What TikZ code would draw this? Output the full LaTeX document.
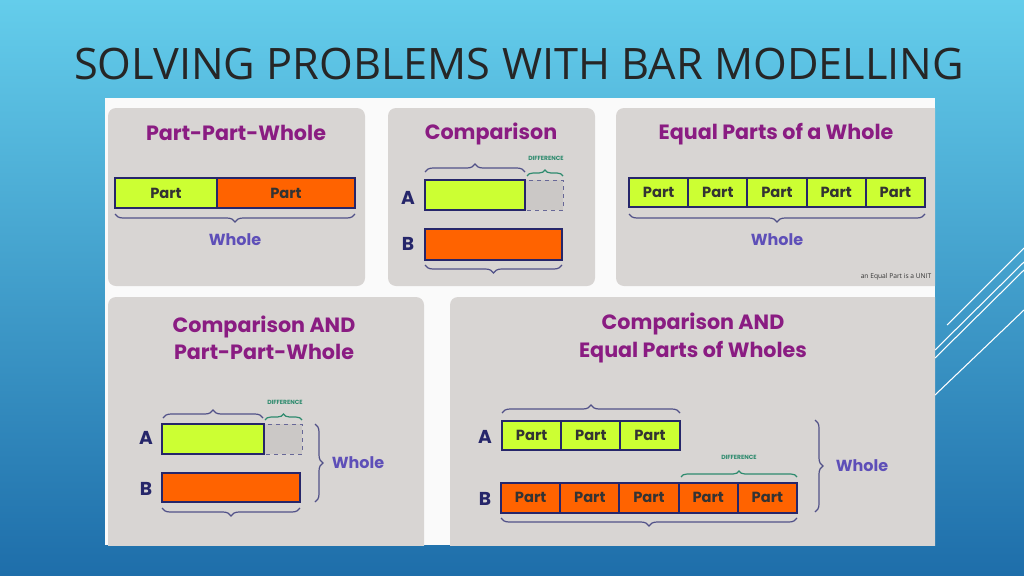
\documentclass[tikz,border=0pt]{standalone}
\usepackage{fontspec}
\setmainfont{Open Sans}
\newfontfamily\rnd{Poppins}
\usetikzlibrary{decorations.pathreplacing}
\definecolor{pnl}{HTML}{D8D5D3}
\definecolor{ttl}{HTML}{8A1C82}
\definecolor{nav}{HTML}{26266A}
\definecolor{grn}{HTML}{CCFF33}
\definecolor{org}{HTML}{FF6300}
\definecolor{wh}{HTML}{5E4FB8}
\definecolor{tea}{HTML}{2E8B6E}
\begin{document}
\begin{tikzpicture}[x=0.75pt,y=-0.75pt,
  panel/.style={fill=pnl,rounded corners=6pt,draw=none},
  ptitle/.style={text=ttl,font=\rnd\bfseries\fontsize{15.5}{20.5}\selectfont,align=center},
  bar/.style={draw=nav,line width=1.4pt},
  gbar/.style={bar,fill=grn},
  obar/.style={bar,fill=org},
  dbox/.style={draw=nav!70,dashed,fill=pnl!85!gray},
  lbl/.style={text=nav,font=\rnd\bfseries\fontsize{14}{16}\selectfont},
  part/.style={font=\rnd\bfseries\fontsize{11}{13}\selectfont,text=black!80},
  brc/.style={draw=nav!80,line width=0.9pt,decorate,decoration={brace,amplitude=6pt}},
  dbrc/.style={draw=tea,line width=0.9pt,decorate,decoration={brace,amplitude=4.5pt}},
  wlbl/.style={text=wh,font=\rnd\bfseries\fontsize{12}{14}\selectfont},
  dlbl/.style={text=tea,font=\rnd\bfseries\fontsize{4.5}{5}\selectfont}]
\useasboundingbox (0,0) rectangle (1024,575);
\shade[top color={rgb,255:red,100;green,205;blue,235}, bottom color={rgb,255:red,30;green,110;blue,170}] (0,0) rectangle (1024,575);
% decorative lines
\begin{scope}[white,line width=0.8pt]
\draw (947,325) -- (1024,248);
\draw (935,350) -- (1024,262);
\draw (935,358) -- (1024,270);
\draw (935,395) -- (1024,310);
\end{scope}
\node[text=black!85,font=\fontsize{32.5}{36}\selectfont] (t) at (519,64) {SOLVING PROBLEMS WITH BAR MODELLING};
\fill[white!96!gray] (105,98) rectangle (935,545);
\begin{scope}
\clip (105,98) rectangle (935,545);
% panel 1
\fill[panel] (108,108) rectangle (365,286);
\node[ptitle] (p1) at (236,133) {Part-Part-Whole};
\draw[gbar] (115,178) rectangle (217,208);
\draw[obar] (217,178) rectangle (355,208);
\node[part] (a1) at (166,193) {Part};
\node[part] (a2) at (286,193) {Part};
\draw[brc] (355,214) -- (115,214);
\node[wlbl] (w1) at (235,240) {Whole};
% panel 2
\fill[panel] (388,108) rectangle (595,286);
\node[ptitle] (p2) at (491,134) {Comparison};
\draw[brc] (425,172) -- (525,172);
\draw[dbrc] (527,176) -- (563,176);
\node[dlbl] (d2) at (546,158) {DIFFERENCE};
\draw[dbox] (525,180) rectangle (563,210);
\draw[gbar] (425,180) rectangle (525,210);
\node[lbl] (A2) at (408,198) {A};
\draw[obar] (425,229) rectangle (562,260);
\node[lbl] (B2) at (408,244) {B};
\draw[brc] (562,265) -- (425,265);
% panel 3
\fill[panel] (616,108) rectangle (950,286);
\node[ptitle] (p3) at (776,134) {Equal Parts of a Whole};
\foreach \i in {0,...,4}{
  \draw[gbar] ({629+59.2*\i},178) rectangle ({629+59.2*(\i+1)},207);
  \node[part] (e\i) at ({629+59.2*\i+29.6},192) {Part};
}
\draw[brc] (925,214) -- (629,214);
\node[wlbl] (w3) at (777,240) {Whole};
\node[font=\fontsize{5}{6}\selectfont,text=black!80,anchor=east] (u) at (936,277) {an Equal Part is a UNIT};
% panel 4
\fill[panel] (108,297) rectangle (424,560);
\node[ptitle] (p4) at (264,338) {Comparison AND\\Part-Part-Whole};
\draw[brc] (163,418) -- (263,418);
\draw[dbrc] (265,420) -- (302,420);
\node[dlbl] (d4) at (285,402) {DIFFERENCE};
\draw[dbox] (264,424) rectangle (302,454);
\draw[gbar] (162,424) rectangle (264,454);
\node[lbl] (A4) at (146,438) {A};
\draw[obar] (162,473) rectangle (300,502);
\node[lbl] (B4) at (146,489) {B};
\draw[brc] (300,508) -- (162,508);
\draw[brc] (315,424) -- (315,502);
\node[wlbl] (w4) at (358,463) {Whole};
% panel 5
\fill[panel] (450,297) rectangle (950,560);
\node[ptitle] (p5) at (693,338) {Comparison AND\\Equal Parts of Wholes};
\foreach \i in {0,...,2}{
  \draw[gbar] ({502+59.2*\i},421) rectangle ({502+59.2*(\i+1)},450);
  \node[part] (g\i) at ({502+59.2*\i+29.6},435) {Part};
}
\draw[brc] (502,413) -- (680,413);
\node[lbl] (A5) at (485,437) {A};
\foreach \i in {0,...,4}{
  \draw[obar] ({501+59.2*\i},483) rectangle ({501+59.2*(\i+1)},513);
  \node[part] (o\i) at ({501+59.2*\i+29.6},497) {Part};
}
\node[lbl] (B5) at (485,499) {B};
\draw[dbrc] (681,477) -- (797,477);
\node[dlbl] (d5) at (739,457) {DIFFERENCE};
\draw[brc] (797,518) -- (501,518);
\draw[brc] (815,420) -- (815,512);
\node[wlbl] (w5) at (862,466) {Whole};
\end{scope}
\end{tikzpicture}
\end{document}
